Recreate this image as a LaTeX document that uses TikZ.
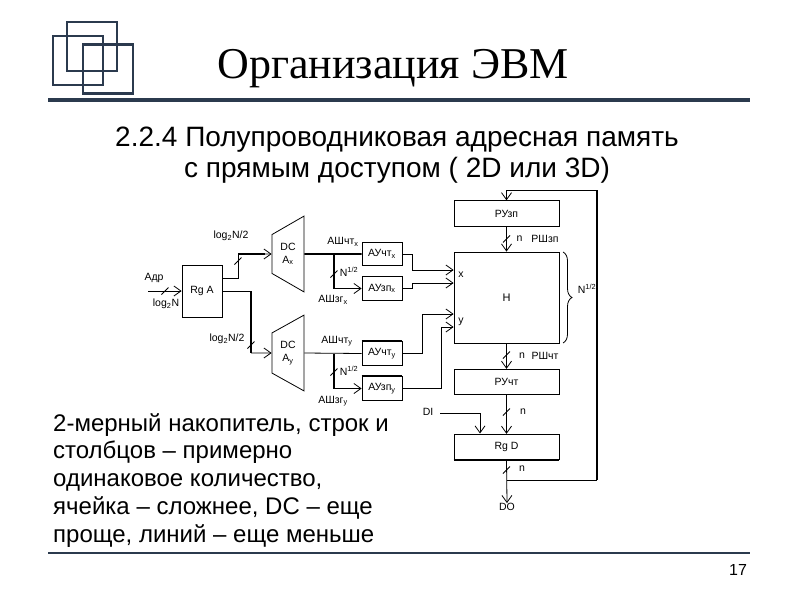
\documentclass[tikz,border=0pt]{standalone}
\usepackage{amsmath}
\usepackage{fontspec}
\setmainfont{Liberation Sans}
\newfontfamily\titlefont{Liberation Serif}
\usetikzlibrary{arrows.meta, calc, decorations.pathreplacing, shapes.geometric}
\definecolor{navy}{HTML}{2B3A4E}
\tikzset{
  wire/.style={line width=.8pt},
  bus/.style={line width=1.9pt},
  arr/.style={-{Straight Barb[length=7pt,width=10pt,line width=.8pt]}},
  blockbox/.style={draw,line width=.8pt,inner sep=0pt,minimum width=105pt,minimum height=25.5pt,font=\fontsize{10.5}{11}\selectfont},
  smallbox/.style={draw,line width=.8pt,inner sep=0pt,minimum width=40pt,minimum height=23.5pt,font=\fontsize{10.5}{11}\selectfont},
  dcshape/.style={draw,line width=.8pt,trapezium,trapezium stretches=true,shape border rotate=90,trapezium angle=55.5,inner sep=0pt,minimum width=76pt,minimum height=32pt,align=center,font=\fontsize{10.5}{13}\selectfont},
  lab/.style={inner sep=0pt,font=\fontsize{10.5}{11}\selectfont},
  logosq/.style={draw=navy,line width=2.2pt,minimum width=50pt,minimum height=49pt,inner sep=0pt},
  bodytext/.style={inner sep=0pt,anchor=base west,font=\fontsize{24}{28}\selectfont}
}
\newcommand{\wiretick}[1]{\draw[wire] #1 ++(-3.5,3.5) -- ++(7,-7);}
\begin{document}
\begin{tikzpicture}[x=1pt,y=-1pt]
  \useasboundingbox (0,0) rectangle (794,595);
  % header
  \node[logosq] (sqa) at (92,46.5) {};
  \node[logosq] (sqb) at (78,60.5) {};
  \node[logosq] (sqc) at (108,69) {};
  \draw[navy,line width=3.2pt] (48,100) -- (750,100);
  \node[inner sep=0pt,font=\titlefont\fontsize{44}{48}\selectfont] (title) at (393,69) {Организация ЭВМ};
  \node[inner sep=0pt,align=center,font=\fontsize{28}{31}\selectfont] (subtitle) at (397,155) {2.2.4 Полупроводниковая адресная память\\с прямым доступом ( 2D или 3D)};

  % blocks
  \node[draw,line width=.8pt,inner sep=0pt,minimum width=40pt,minimum height=52pt,font=\fontsize{10.5}{11}\selectfont] (rga) at (202,291) {Rg A};
  \node[dcshape] (dcx) at (288,254) {DC\\A\textsubscript{x}};
  \node[dcshape] (dcy) at (288,353) {DC\\A\textsubscript{y}};
  \node[smallbox] (rdx) at (382,254) {АУчт\textsubscript{x}};
  \node[smallbox] (wrx) at (382,288.5) {АУзп\textsubscript{x}};
  \node[smallbox] (rdy) at (382,353.5) {АУчт\textsubscript{y}};
  \node[smallbox] (wry) at (382,388.5) {АУзп\textsubscript{y}};
  \node[draw,line width=.8pt,inner sep=0pt,minimum width=105pt,minimum height=91pt,font=\fontsize{11}{11}\selectfont] (mem) at (506.5,297.5) {Н};
  \node[blockbox] (ruw) at (506.5,213.5) {РУзп};
  \node[blockbox] (rur) at (506.5,382) {РУчт};
  \node[blockbox] (rgd) at (506.5,447) {Rg D};

  % free ends
  \coordinate (adr) at (148,291);
  \coordinate (di) at (440,413);
  \node[lab] (dolab) at (507,507) {DO};
  \node[lab] (dilab) at (428,412) {DI};

  % address part
  \draw[wire,arr] (adr) -- (adr -| rga.west);
  \wiretick{(165,291)}
  \draw[wire] ([yshift=13pt]rga.east) -| (238,254);
  \draw[bus] (238,254) -- (265,254);
  \draw[wire,arr] (265,254) -- (dcx.west);
  \wiretick{(238,261)}
  \draw[wire] (rga.east) -- (251,291);
  \draw[bus] (251,291) -- (251,353);
  \draw[wire,arr] (251,353) -- (dcy.west);
  \wiretick{(251,345)}

  % x lines
  \draw[bus] (dcx.east) -- (rdx.west);
  \draw[bus] (334,254) -- (334,288.5);
  \draw[wire,arr] (334,288.5) -- (wrx.west);
  \wiretick{(334,274)}
  \draw[wire,arr] (rdx.east) -- (412,254) -- (412,270) -- (mem.west |- 0,270);
  \draw[wire,arr] (wrx.east) -- (412,288.5) -- (412,283) -- (mem.west |- 0,283);

  % y lines
  \draw[wire] (dcy.east) -- (rdy.west);
  \draw[bus] (334,353.5) -- (334,388.5);
  \draw[wire,arr] (334,388.5) -- (wry.west);
  \wiretick{(334,372)}
  \draw[wire,arr] (rdy.east) -- (422,353.5) -- (422,314) -- (mem.west |- 0,314);
  \draw[bus] (wry.east) -- (441,388.5);
  \draw[wire,arr] (441,388.5) -- (441,327) -- (mem.west |- 0,327);
  \draw[bus] (rdy.north west) -- (rdy.north east);
  \draw[bus] (wry.north west) -- (wry.north east);

  % data part
  \draw[wire,arr] (ruw) -- (mem);
  \draw[wire,arr] (mem) -- (rur);
  \draw[wire,arr] (rur) -- (rgd);
  \draw[wire,arr] (di) -| (480,433.5);
  \draw[wire,arr] (rgd.south) -- (dolab.north);
  \draw[bus] (rgd.south west) -- (rgd.south east);
  \wiretick{(506.5,239)}
  \wiretick{(506.5,355)}
  \wiretick{(506.5,412)}
  \wiretick{(506.5,470)}
  % feedback
  \draw[wire] (506.5,480) -- (597,480);
  \draw[bus] (597,480) -- (597,190);
  \draw[wire] (597,190) -- (506.5,190);
  \draw[wire,arr] (506.5,190) -- (ruw.north);
  % brace
  \draw[wire,decorate,decoration={brace,amplitude=9pt,aspect=.5}] (563,252) -- (563,343);

  % labels
  \node[lab] (l1) at (154,278) {Адр};
  \node[lab] (l2) at (166,304) {log\textsubscript{2}N};
  \node[lab] (l3) at (231,236) {log\textsubscript{2}N/2};
  \node[lab] (l4) at (227,339) {log\textsubscript{2}N/2};
  \node[lab] (l5) at (343,242) {АШчт\textsubscript{x}};
  \node[lab] (l6) at (333,300) {АШзг\textsubscript{x}};
  \node[lab] (l7) at (337,341) {АШчт\textsubscript{y}};
  \node[lab] (l8) at (333,401) {АШзг\textsubscript{y}};
  \node[lab] (l9) at (349,272) {N\textsuperscript{1/2}};
  \node[lab] (l10) at (349,371) {N\textsuperscript{1/2}};
  \node[lab] (l11) at (461,275) {x};
  \node[lab] (l12) at (461,322) {y};
  \node[lab] (l13) at (587,289) {N\textsuperscript{1/2}};
  \node[lab] (l14) at (519.5,239) {n};
  \node[lab] (l15) at (545,239) {РШзп};
  \node[lab] (l16) at (522,356) {n};
  \node[lab] (l17) at (545,356) {РШчт};
  \node[lab] (l18) at (523,412) {n};
  \node[lab] (l19) at (522,469) {n};

  % note
  \node[bodytext] (t1) at (53,431) {2-мерный накопитель, строк и};
  \node[bodytext] (t2) at (53,458.5) {столбцов -- примерно};
  \node[bodytext] (t3) at (53,486) {одинаковое количество,};
  \node[bodytext] (t4) at (53,514) {ячейка -- сложнее, DC -- еще};
  \node[bodytext] (t5) at (53,542) {проще, линий -- еще меньше};

  % page number
  \draw[navy,line width=2.8pt] (48,553) -- (750,553);
  \node[inner sep=0pt,font=\fontsize{16}{18}\selectfont] (pg) at (738,570) {17};
\end{tikzpicture}
\end{document}
